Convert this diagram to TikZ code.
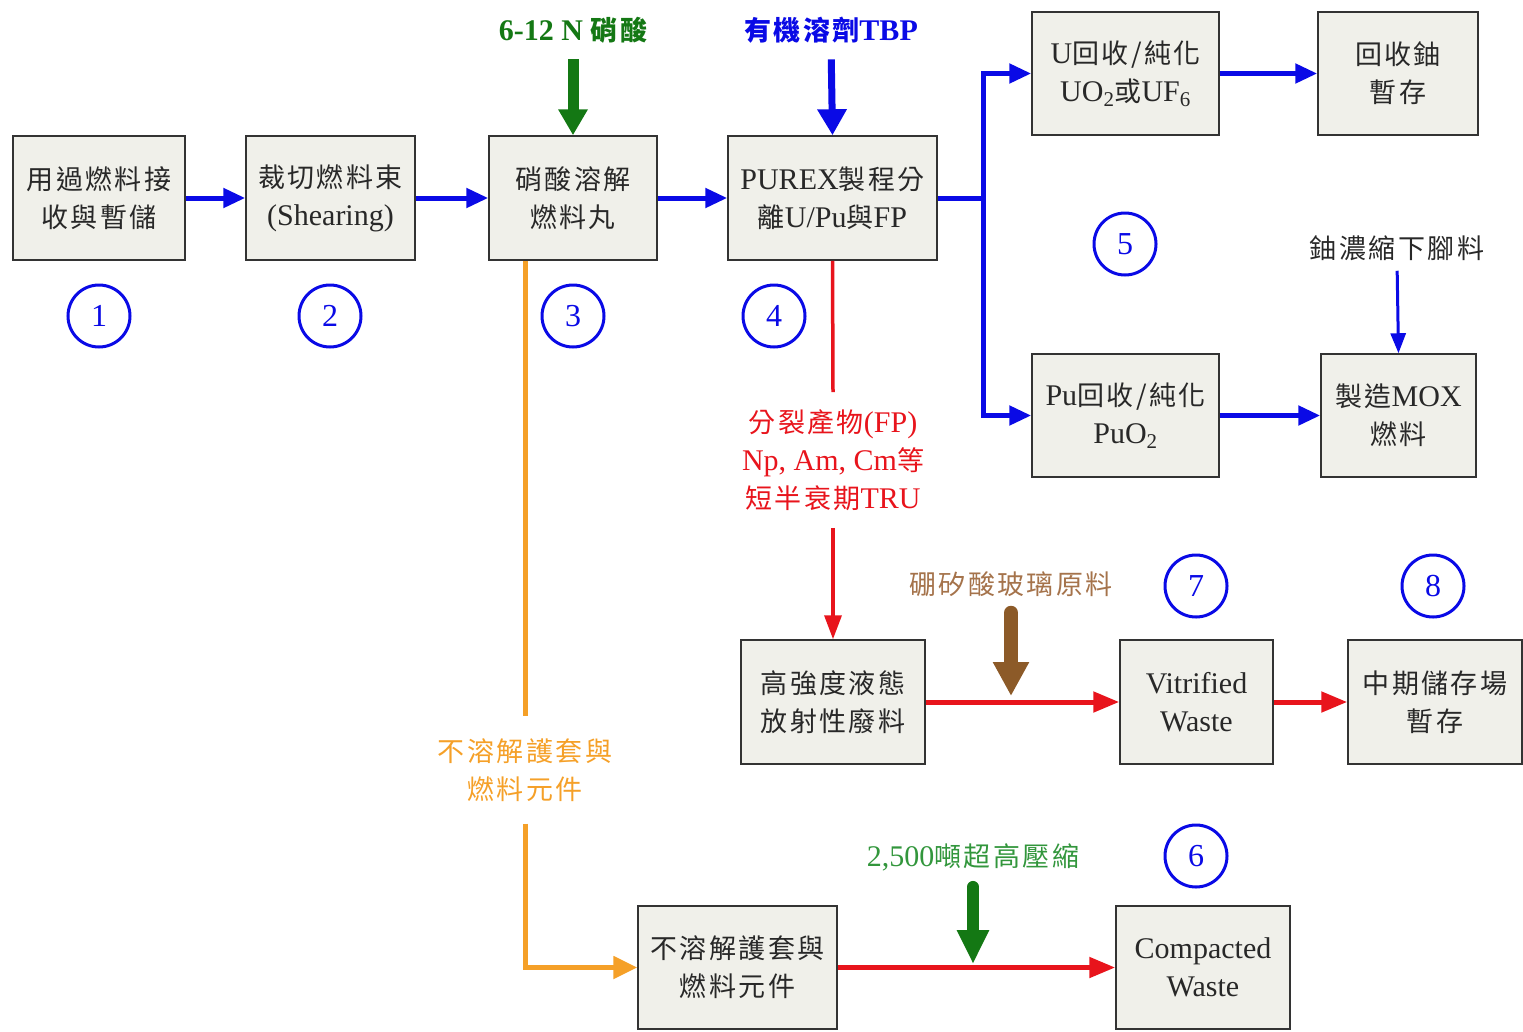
\documentclass[tikz,border=0pt]{standalone}
\usepackage{fontspec}
\setmainfont{Liberation Serif}
\newfontfamily\cjk[LetterSpace=9]{Noto Sans CJK TC}
\newcommand\zh[1]{{\fontsize{27}{38}\selectfont\cjk #1}}
\usetikzlibrary{arrows.meta,calc}
\definecolor{boxfill}{RGB}{240,240,234}
\definecolor{ablue}{RGB}{10,10,230}
\definecolor{ared}{RGB}{232,20,28}
\definecolor{agreen}{RGB}{20,120,20}
\definecolor{lgreen}{RGB}{50,150,60}
\definecolor{aorange}{RGB}{245,160,40}
\definecolor{abrown}{RGB}{140,90,40}
\definecolor{lbrown}{RGB}{165,115,75}
\definecolor{txt}{RGB}{40,40,40}
\tikzset{
  box/.style={draw=black!80, line width=1.5pt, fill=boxfill, inner sep=0pt, align=center,
    text=txt, font=\fontsize{30}{38}\selectfont},
  numc/.style={circle, draw=ablue, line width=3pt, minimum size=62pt, inner sep=0pt,
    text=ablue, font=\fontsize{32}{38}\selectfont},
  lbl/.style={align=center, inner sep=0pt, font=\fontsize{30}{38}\selectfont},
  barrow/.style={draw=ablue, line width=5pt, -{Triangle[length=22pt,width=19pt]}},
  bline/.style={draw=ablue, line width=5pt},
  rarrow/.style={draw=ared, line width=5pt, -{Triangle[length=26pt,width=20pt]}},
  rline/.style={draw=ared, line width=3.5pt},
  oline/.style={draw=aorange, line width=5pt},
}
\begin{document}
\begin{tikzpicture}[x=1pt,y=-1pt]
\useasboundingbox (0,0) rectangle (1523,1031);
% boxes
\node[box, minimum width=172pt, minimum height=124pt] (b1) at (99,198) {\zh{用過燃料接}\\\zh{收與暫儲}};
\node[box, minimum width=169pt, minimum height=124pt] (b2) at (330.5,198) {\zh{裁切燃料束}\\(Shearing)};
\node[box, minimum width=168pt, minimum height=124pt] (b3) at (573,198) {\zh{硝酸溶解}\\\zh{燃料丸}};
\node[box, minimum width=209pt, minimum height=124pt] (b4) at (832.5,198) {PUREX\zh{製程分}\\\zh{離}U/Pu\zh{與}FP};
\node[box, minimum width=187pt, minimum height=123pt] (b5) at (1125.5,73.5) {U\zh{回收/純化}\\UO\textsubscript{2}\zh{或}UF\textsubscript{6}};
\node[box, minimum width=160pt, minimum height=123pt] (b6) at (1398,73.5) {\zh{回收鈾}\\\zh{暫存}};
\node[box, minimum width=187pt, minimum height=123pt] (b7) at (1125.5,415.5) {Pu\zh{回收/純化}\\PuO\textsubscript{2}};
\node[box, minimum width=155pt, minimum height=123pt] (b8) at (1398.5,415.5) {\zh{製造}MOX\\\zh{燃料}};
\node[box, minimum width=184pt, minimum height=124pt] (b9) at (833,702) {\zh{高強度液態}\\\zh{放射性廢料}};
\node[box, minimum width=153pt, minimum height=124pt] (b10) at (1196.5,702) {Vitrified\\Waste};
\node[box, minimum width=174pt, minimum height=124pt] (b11) at (1435,702) {\zh{中期儲存場}\\\zh{暫存}};
\node[box, minimum width=199pt, minimum height=123pt] (b12) at (737.5,967.5) {\zh{不溶解護套與}\\\zh{燃料元件}};
\node[box, minimum width=174pt, minimum height=123pt] (b13) at (1203,967.5) {Compacted\\Waste};
% numbered circles
\node[numc] (n1) at (99,316) {1};
\node[numc] (n2) at (330,316) {2};
\node[numc] (n3) at (573,316) {3};
\node[numc] (n4) at (774,316) {4};
\node[numc] (n5) at (1125,244) {5};
\node[numc] (n7) at (1196,586) {7};
\node[numc] (n8) at (1433,586) {8};
\node[numc] (n6) at (1196,856) {6};
% main chain
\draw[barrow] (b1) -- (b2);
\draw[barrow] (b2) -- (b3);
\draw[barrow] (b3) -- (b4);
\coordinate (sp) at (983,198);
\draw[bline] (b4.east) -- (sp);
\draw[barrow] (sp) |- (b5.west);
\draw[barrow] (sp) |- (b7.west);
\draw[barrow] (b5) -- (b6);
\draw[barrow] (b7) -- (b8);
% top inputs
\node[lbl, text=agreen, font=\fontsize{30}{38}\selectfont\bfseries] (acid) at (573,30) {6-12 N \zh{\bfseries 硝酸}};
\draw[draw=agreen, line width=11pt, -{Triangle[length=26pt,width=28pt]}, shorten <=16pt] (acid.south) -- (b3.north);
\node[lbl, text=ablue, font=\fontsize{30}{38}\selectfont\bfseries] (tbp) at (831,30) {\zh{\bfseries 有機溶劑}TBP};
\draw[draw=ablue, line width=7pt, -{Triangle[length=26pt,width=28pt]}, shorten <=16pt] (tbp.south) -- (b4.north);
\node[lbl, text=txt] (dep) at (1397,248) {\zh{鈾濃縮下腳料}};
\draw[draw=ablue, line width=3pt, -{Triangle[length=20pt,width=15pt]}, shorten <=10pt] (dep.south) -- (b8.north);
% fission products
\node[lbl, text=ared, inner ysep=17pt] (fp) at (833,460) {\zh{分裂產物}(FP)\\Np, Am, Cm\zh{等}\\\zh{短半衰期}TRU};
\draw[rline] (b4.south) -- (fp.north);
\draw[draw=ared, line width=3.5pt, -{Triangle[length=24pt,width=17pt]}] (fp.south) -- (b9.north);
% vitrification
\draw[rarrow] (b9) -- (b10);
\draw[rarrow] (b10) -- (b11);
\node[lbl, text=lbrown] (bs) at (1011,584) {\zh{硼矽酸玻璃原料}};
\coordinate (bsend) at (1011,696);
\draw[draw=abrown, line width=14pt, line cap=round, -{Triangle[length=34pt,width=34pt]}, shorten <=16pt] (bs.south) -- (bsend);
% hulls
\node[lbl, text=aorange, inner ysep=22pt] (hl) at (525,770) {\zh{不溶解護套與}\\\zh{燃料元件}};
\draw[oline] (b3.south -| hl.north) -- (hl.north);
\draw[draw=aorange, line width=5pt, -{Triangle[length=24pt,width=22pt]}] (hl.south) |- (b12.west);
\draw[rarrow] (b12) -- (b13);
\node[lbl, text=lgreen] (cmp) at (973,857) {2,500\zh{噸超高壓縮}};
\coordinate (cmpend) at (973,964);
\draw[draw=agreen, line width=12pt, line cap=round, -{Triangle[length=34pt,width=30pt]}, shorten <=16pt] (cmp.south) -- (cmpend);
\end{tikzpicture}
\end{document}
